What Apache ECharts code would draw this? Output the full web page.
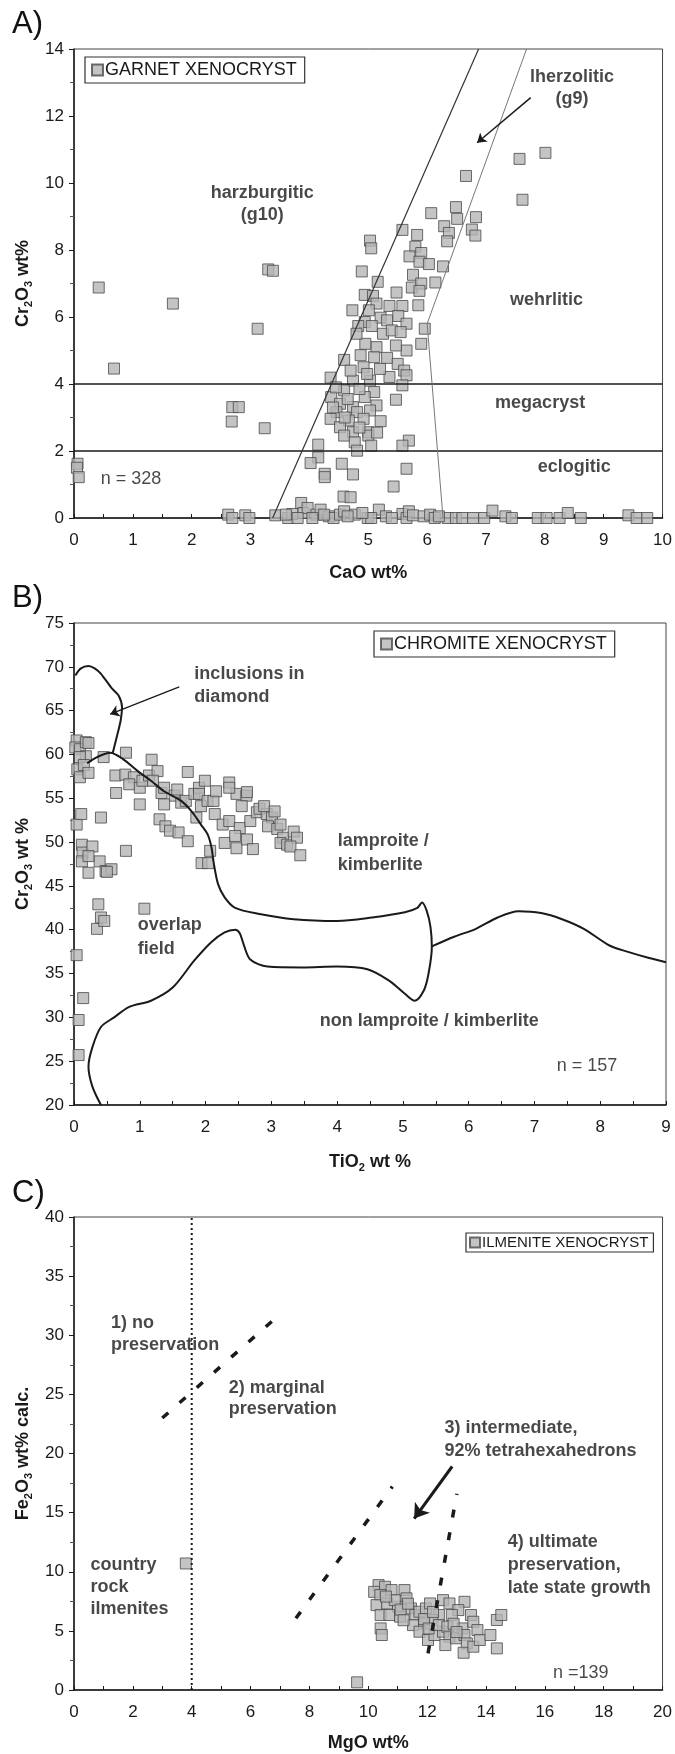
<!DOCTYPE html>
<html>
<head>
<meta charset="utf-8">
<script src="https://cdn.jsdelivr.net/npm/echarts@6.0.0/dist/echarts.min.js"></script>
<style>
  html, body { margin: 0; padding: 0; background: #fff; }
  #chart { width: 675px; height: 1754px; }
</style>
</head>
<body>
<div id="chart"></div>
<script>
// ---- A) garnet xenocrysts: [CaO wt%, Cr2O3 wt%]
var garnetPts = [
  [0.42,6.88],[1.68,6.4],[3.12,5.65],[3.3,7.42],[3.38,7.38],[0.68,4.46],[2.69,3.31],[2.8,3.31],
  [2.68,2.88],[3.24,2.68],[0.06,1.62],[0.05,1.5],[0.08,1.22],
  [6.66,10.21],[7.57,10.72],[8.01,10.9],[7.62,9.5],[6.07,9.1],[6.49,9.28],[6.51,8.93],[6.83,8.98],
  [6.29,8.71],[6.37,8.51],[6.34,8.26],[6.76,8.61],[6.82,8.43],[5.58,8.6],[5.83,8.45],[5.03,8.28],
  [5.05,8.05],[5.8,8.1],[5.7,7.81],[5.9,7.91],[5.87,7.65],[6.03,7.58],[6.27,7.51],[4.89,7.36],
  [5.16,7.05],[5.76,7.26],[5.74,6.88],[5.9,7.0],[6.14,7.03],[5.87,6.78],[4.94,6.66],[5.08,6.63],
  [5.48,6.73],[5.14,6.4],[5.36,6.33],[5.58,6.33],[5.85,6.35],[4.73,6.2],[5.01,6.2],[5.21,5.98],
  [5.32,5.9],[5.51,6.03],[4.94,5.85],[4.83,5.73],[5.06,5.73],[5.65,5.8],[5.96,5.65],
  [5.9,5.2],[5.65,5.0],[5.47,5.15],[5.25,5.5],[5.14,5.1],[4.59,4.72],[4.87,4.86],[5.1,4.8],
  [5.32,4.78],[5.5,4.6],[5.61,4.4],[5.65,4.26],[5.58,3.96],[5.36,4.21],[4.36,4.19],[4.74,4.1],
  [5.03,4.1],[4.92,4.5],[4.59,3.81],[5.1,3.76],[5.47,3.53],[4.37,3.61],[4.52,3.41],[4.74,3.31],
  [4.94,3.61],[5.14,3.36],[4.46,3.16],[4.81,3.16],[5.03,3.21],[4.36,2.96],[4.67,2.91],[4.92,2.96],
  [5.21,2.89],[4.52,2.71],[4.74,2.56],[5.0,2.56],[4.59,2.46],[5.0,2.46],[4.77,2.26],[5.05,2.16],
  [4.81,2.01],[4.15,2.19],[5.69,2.31],[5.58,2.16],[4.15,1.81],[4.02,1.64],[4.26,1.32],[4.26,1.22],
  [4.55,1.62],[4.74,1.3],[5.65,1.47],[5.43,0.94],[4.58,0.64],[4.7,0.62],
  [4.45,3.9],[4.65,3.55],[4.85,3.85],[4.98,4.3],[5.2,4.45],[4.7,4.4],[4.4,3.3],[4.6,3.0],
  [4.85,2.7],[5.15,2.55],[4.95,5.2],[4.8,5.5],[5.4,5.6],[5.55,5.55],
  [2.62,0.1],[2.69,0.0],[2.91,0.08],[2.98,0.0],[3.42,0.08],[3.64,0.0],[3.71,0.12],[3.86,0.45],
  [3.9,0.15],[3.97,0.3],[4.12,0.1],[4.19,0.25],[4.33,0.05],[4.41,0.0],[4.52,0.1],[4.59,0.2],
  [4.77,0.1],[4.99,0.0],[5.18,0.25],[5.05,0.0],[5.58,0.12],[5.65,0.0],[5.69,0.2],[5.76,0.08],
  [5.94,0.05],[6.05,0.1],[6.13,0.0],[6.35,0.0],[6.49,0.0],[6.6,0.0],[6.78,0.0],[6.97,0.0],
  [7.11,0.22],[7.33,0.05],[7.44,0.0],[7.88,0.0],[8.03,0.0],[8.25,0.0],[8.39,0.15],[8.61,0.0],
  [9.42,0.08],[9.56,0.0],[9.74,0.0],[3.8,0.0],[4.05,0.0],[4.25,0.1],[4.65,0.05],[5.3,0.05],
  [6.2,0.05],[4.9,0.15],[3.6,0.1],[5.4,0.0]
];
var garnetG10Line = [[3.375,0],[6.875,14]];
var garnetG9Line = [[6.27,0],[6.0,5.8],[7.69,14]];
var garnetLine4 = [[0,4],[10,4]];
var garnetLine2 = [[0,2],[10,2]];
var garnetArrow = [[7.76,12.55],[6.85,11.2]];

// ---- B) chromite xenocrysts: [TiO2 wt%, Cr2O3 wt%]
var chromitePts = [
  [0.04,61.6],[0.02,60.8],[0.09,60.6],[0.18,61.4],[0.18,59.8],[0.09,59.7],[0.05,58.3],[0.09,57.4],
  [0.15,58.8],[0.22,57.9],[0.22,61.3],[0.45,59.7],[0.79,60.2],[0.63,57.6],[0.64,55.6],[0.78,57.7],
  [0.91,57.4],[0.84,56.6],[1.0,56.2],[1.04,57.0],[1.14,57.6],[1.0,54.3],[1.18,59.4],[1.27,58.1],
  [1.2,57.0],[1.33,55.6],[1.37,56.2],[1.53,55.3],[1.57,56.0],[1.37,54.3],[1.3,52.6],[1.39,51.8],
  [1.46,51.3],[1.59,51.1],[1.73,50.1],[1.63,54.5],[1.7,54.7],[1.73,58.0],[1.83,55.5],[1.9,56.2],
  [1.86,52.8],[1.93,54.1],[1.99,57.0],[1.9,55.5],[2.03,54.7],[2.12,54.7],[2.14,53.2],[2.26,52.0],
  [2.29,49.9],[2.36,52.4],[2.16,55.8],[2.36,56.8],[2.47,49.3],[2.52,51.6],[2.45,50.7],[2.63,50.3],
  [2.72,49.2],[2.47,55.5],[2.62,55.3],[2.36,56.2],[2.55,54.1],[2.63,55.7],[2.68,52.4],[2.78,53.4],
  [2.82,53.8],[2.93,53.2],[2.89,54.1],[3.01,52.8],[3.05,53.5],[2.95,51.8],[3.09,51.5],[3.14,52.0],
  [3.18,50.5],[3.14,49.9],[3.24,49.7],[3.34,51.2],[3.39,50.5],[3.29,49.5],[3.44,48.5],
  [0.04,52.0],[0.11,53.2],[0.41,52.8],[0.12,49.7],[0.13,48.8],[0.28,49.5],[0.12,47.8],[0.22,46.5],
  [0.39,47.8],[0.48,46.7],[0.57,46.9],[0.79,49.0],[0.22,48.4],[0.37,42.9],[0.35,40.1],[0.41,41.4],
  [0.46,41.0],[0.5,46.6],[1.07,42.4],[0.04,37.1],[0.14,32.2],[0.07,29.7],[0.07,25.7],
  [1.94,47.6],[2.04,47.6],[2.07,49.0]
];
var diamondCurve = [[0.02,69.0],[0.1,69.8],[0.22,70.1],[0.32,69.8],[0.41,69.2],[0.58,67.5],[0.68,66.7],
  [0.73,65.4],[0.71,63.9],[0.66,62.3],[0.63,61.4],[0.59,60.2]];
var lamproiteCurve = [[0.2,59.0],[0.35,59.7],[0.55,60.2],[0.74,59.5],[0.97,58.1],[1.17,57.0],[1.37,55.8],
  [1.63,54.7],[1.8,53.4],[1.93,52.0],[2.03,50.9],[2.09,49.4],[2.12,47.8],[2.19,45.2],[2.29,43.7],
  [2.45,42.5],[2.82,41.8],[3.34,41.2],[4.0,41.0],[4.53,41.4],[5.03,42.0],[5.22,42.5],[5.29,43.1],
  [5.36,42.2],[5.42,40.3],[5.44,38.0],[5.39,35.0],[5.32,33.1],[5.18,31.9],[5.03,32.7],[4.79,34.2],
  [4.46,35.5],[4.0,35.8],[3.47,35.7],[2.94,35.8],[2.68,36.6],[2.58,38.3],[2.52,39.6],[2.45,40.0],
  [2.29,39.7],[2.09,38.6],[1.83,36.5],[1.5,33.4],[1.17,31.9],[0.84,31.2],[0.61,30.0],[0.41,28.9],
  [0.28,26.6],[0.22,24.4],[0.28,22.1],[0.41,20.0]];
var rightCurve = [[5.44,38.1],[5.78,39.2],[6.11,40.1],[6.44,41.4],[6.76,42.1],[7.1,41.9],[7.42,41.2],
  [7.75,40.1],[8.14,38.2],[8.41,37.5],[8.73,36.8],[9.0,36.3]];
var chromiteArrow = [[1.6,67.7],[0.55,64.6]];

// ---- C) ilmenite xenocrysts: [MgO wt%, Fe2O3 wt% calc.]
var ilmenitePts = [
  [3.8,10.7],[9.62,0.65],
  [10.35,8.87],[10.57,8.73],[10.2,8.3],[10.41,8.03],[10.79,8.45],[11.23,8.45],[11.3,7.75],[10.28,7.18],
  [10.64,7.32],[11.01,7.04],[10.42,6.34],[10.72,6.34],[11.08,6.2],[11.45,6.9],[11.6,6.34],[11.74,6.62],
  [11.96,6.9],[12.1,7.32],[12.54,7.6],[12.76,7.32],[13.27,7.46],[13.06,6.76],[12.84,6.34],[12.4,6.34],
  [12.18,5.92],[11.89,5.63],[11.52,5.49],[11.74,4.93],[12.03,4.23],[12.25,4.65],[12.54,4.93],[12.4,5.49],
  [12.69,5.35],[12.76,4.51],[12.62,3.8],[12.98,4.37],[13.2,5.21],[13.27,4.65],[13.35,3.94],[13.24,3.15],
  [13.57,3.66],[13.49,6.34],[13.57,5.77],[13.71,5.07],[13.79,4.23],[14.15,4.65],[14.37,5.92],[14.52,6.34],
  [14.37,3.52],[10.42,5.21],[10.46,4.65],[10.9,7.6],[11.1,6.8],[11.35,7.3],[11.9,6.0],[12.2,6.6],
  [12.05,5.2],[12.9,5.6],[13.0,4.9],[11.2,5.9],[10.6,7.9]
];
var dottedLine = [[4,0],[4,40]];
var dash1 = [[3.0,23.0],[7.1,32.0]];
var dash2 = [[7.54,6.06],[10.82,17.2]];
var dash3 = [[12.03,3.1],[13.01,16.6]];
var ilmeniteArrow = [[12.85,18.9],[11.56,14.5]];

// annotations: [text, x, y, align, weight]
var notesA = [
  ['harzburgitic',3.2,9.71],['(g10)',3.2,9.03],['lherzolitic',8.46,13.15],['(g9)',8.46,12.5],
  ['wehrlitic',8.03,6.5],['megacryst',7.92,3.43],['eclogitic',8.5,1.52],['n = 328',0.97,1.17,'center','normal']
];
var notesB = [
  ['inclusions in',1.83,69.2,'left'],['diamond',1.83,66.5,'left'],['lamproite /',4.01,50.1,'left'],
  ['kimberlite',4.01,47.4,'left'],['overlap',0.97,40.5,'left'],['field',0.97,37.8,'left'],
  ['non lamproite / kimberlite',5.4,29.6],['n = 157',7.8,24.5,'center','normal']
];
var notesC = [
  ['1) no',1.26,31.0,'left'],['preservation',1.26,29.15,'left'],['2) marginal',5.26,25.5,'left'],
  ['preservation',5.26,23.8,'left'],['3) intermediate,',12.59,22.15,'left'],
  ['92% tetrahexahedrons',12.59,20.2,'left'],['4) ultimate',14.74,12.48,'left'],
  ['preservation,',14.74,10.56,'left'],['late state growth',14.74,8.65,'left'],
  ['country',0.56,10.56,'left'],['rock',0.56,8.73,'left'],['ilmenites',0.56,6.85,'left'],
  ['n =139',17.22,1.41,'center','normal']
];

var FONT = '"Liberation Sans", Arial, sans-serif';
var INK = '#1a1a1a';
var nameRich = {
  b: { fontFamily: FONT, fontWeight: 'bold', fontSize: 18, color: INK, lineHeight: 22 },
  s: { fontFamily: FONT, fontWeight: 'bold', fontSize: 11, color: INK, lineHeight: 12, verticalAlign: 'bottom' }
};

function xAx(gi, min, max, step, name, gap) {
  return {
    gridIndex: gi, type: 'value', min: min, max: max, interval: step,
    name: name, nameLocation: 'middle', nameGap: gap,
    nameTextStyle: { rich: nameRich },
    axisLine: { onZero: false, lineStyle: { color: INK, width: 1.5 } },
    axisTick: { inside: true, length: 4, lineStyle: { color: INK } },
    minorTick: { show: true, splitNumber: 2, length: 4, lineStyle: { color: INK } },
    axisLabel: { fontFamily: FONT, fontSize: 17, color: INK, margin: 14 },
    splitLine: { show: false }
  };
}
function yAx(gi, min, max, step, name, gap) {
  return {
    gridIndex: gi, type: 'value', min: min, max: max, interval: step,
    name: name, nameLocation: 'middle', nameGap: gap, nameRotate: 90,
    nameTextStyle: { rich: nameRich },
    axisLine: { onZero: false, lineStyle: { color: INK, width: 1.5 } },
    axisTick: { length: 5, lineStyle: { color: INK } },
    minorTick: { show: true, splitNumber: 2, length: 4, lineStyle: { color: '#555' } },
    axisLabel: { fontFamily: FONT, fontSize: 17, color: INK, margin: 10 },
    splitLine: { show: false }
  };
}

function pts(gi, name, data) {
  return {
    type: 'scatter', name: name, xAxisIndex: gi, yAxisIndex: gi, data: data,
    symbol: 'rect', symbolSize: 11, z: 3,
    itemStyle: { color: '#b5b5b5', borderColor: '#4a4a4a', borderWidth: 1 }
  };
}
function path(gi, data, color, width, type, smooth) {
  return {
    type: 'line', xAxisIndex: gi, yAxisIndex: gi, data: data, showSymbol: false, symbol: 'none',
    smooth: smooth || false, silent: true, z: 4,
    lineStyle: { color: color, width: width, type: type || 'solid' }
  };
}
function arrow(gi, data, width, head) {
  return {
    type: 'lines', coordinateSystem: 'cartesian2d', xAxisIndex: gi, yAxisIndex: gi, silent: true, z: 5,
    symbol: ['none', 'arrow'], symbolSize: head,
    lineStyle: { color: INK, width: width, opacity: 1 },
    data: [{ coords: [data[0], data[1]] }]
  };
}
function notes(gi, list) {
  return {
    type: 'scatter', xAxisIndex: gi, yAxisIndex: gi, symbolSize: 1, silent: true, z: 5,
    itemStyle: { color: 'rgba(0,0,0,0)' },
    label: { show: true, position: 'inside', fontFamily: FONT, fontSize: 18, color: INK },
    data: list.map(function (t) {
      return { value: [t[1], t[2]], label: { formatter: t[0], align: t[3] || 'center', fontWeight: t[4] || 'bold' } };
    })
  };
}
function legendBox(name, left, top, fs, pad, icon) {
  return {
    data: [name], left: left, top: top, orient: 'horizontal', padding: pad,
    borderColor: '#333', borderWidth: 1.2, backgroundColor: '#fff',
    itemWidth: icon, itemHeight: icon, itemGap: 0, icon: 'rect', selectedMode: false,
    textStyle: { fontFamily: FONT, fontSize: fs, color: INK, padding: [0, 0, 0, -3] }
  };
}

var chart = echarts.init(document.getElementById('chart'), null, { renderer: 'canvas' });
chart.setOption({
  animation: false,
  backgroundColor: '#fff',
  grid: [
    { left: 74, top: 49, width: 593, height: 469, show: true, borderColor: '#444', borderWidth: 1 },
    { left: 74, top: 623, width: 592, height: 482, show: true, borderColor: '#444', borderWidth: 1 },
    { left: 74, top: 1217, width: 592, height: 473, show: true, borderColor: '#444', borderWidth: 1 }
  ],
  xAxis: [
    xAx(0, 0, 10, 1, '{b|CaO wt%}', 44),
    xAx(1, 0, 9, 1, '{b|TiO}{s|2}{b| wt %}', 46),
    xAx(2, 0, 20, 2, '{b|MgO wt%}', 42)
  ],
  yAxis: [
    yAx(0, 0, 14, 2, '{b|Cr}{s|2}{b|O}{s|3}{b| wt%}', 33),
    yAx(1, 20, 75, 5, '{b|Cr}{s|2}{b|O}{s|3}{b| wt %}', 33),
    yAx(2, 0, 40, 5, '{b|Fe}{s|2}{b|O}{s|3}{b| wt% calc.}', 33)
  ],
  legend: [
    legendBox('GARNET XENOCRYST', 85, 57, 18, [4, 8, 4, 6], 11),
    legendBox('CHROMITE XENOCRYST', 374, 631, 18, [4, 8, 4, 6], 11),
    legendBox('ILMENITE XENOCRYST', 466, 1233, 15, [2, 5, 2, 3], 10)
  ],
  graphic: [
    { type: 'text', left: 12, top: 9, style: { text: 'A)', font: '31px "Liberation Sans", Arial', fill: '#111' } },
    { type: 'text', left: 12, top: 583, style: { text: 'B)', font: '31px "Liberation Sans", Arial', fill: '#111' } },
    { type: 'text', left: 12, top: 1178, style: { text: 'C)', font: '31px "Liberation Sans", Arial', fill: '#111' } }
  ],
  series: [
    path(0, garnetLine4, INK, 1.5),
    path(0, garnetLine2, INK, 1.5),
    path(0, garnetG10Line, '#333', 1.2),
    path(0, garnetG9Line, '#777', 1),
    arrow(0, garnetArrow, 1.5, 9),
    pts(0, 'GARNET XENOCRYST', garnetPts),
    notes(0, notesA),

    pts(1, 'CHROMITE XENOCRYST', chromitePts),
    path(1, diamondCurve, INK, 2, 'solid', 0.3),
    path(1, lamproiteCurve, INK, 2, 'solid', 0.3),
    path(1, rightCurve, INK, 2, 'solid', 0.3),
    arrow(1, chromiteArrow, 1.3, 9),
    notes(1, notesB),

    path(2, dottedLine, INK, 2, [2, 3]),
    path(2, dash1, INK, 3.5, [8, 15]),
    path(2, dash2, INK, 3.5, [8, 15]),
    path(2, dash3, INK, 3.5, [8, 15]),
    arrow(2, ilmeniteArrow, 3, 14),
    pts(2, 'ILMENITE XENOCRYST', ilmenitePts),
    notes(2, notesC)
  ]
});
</script>
</body>
</html>
